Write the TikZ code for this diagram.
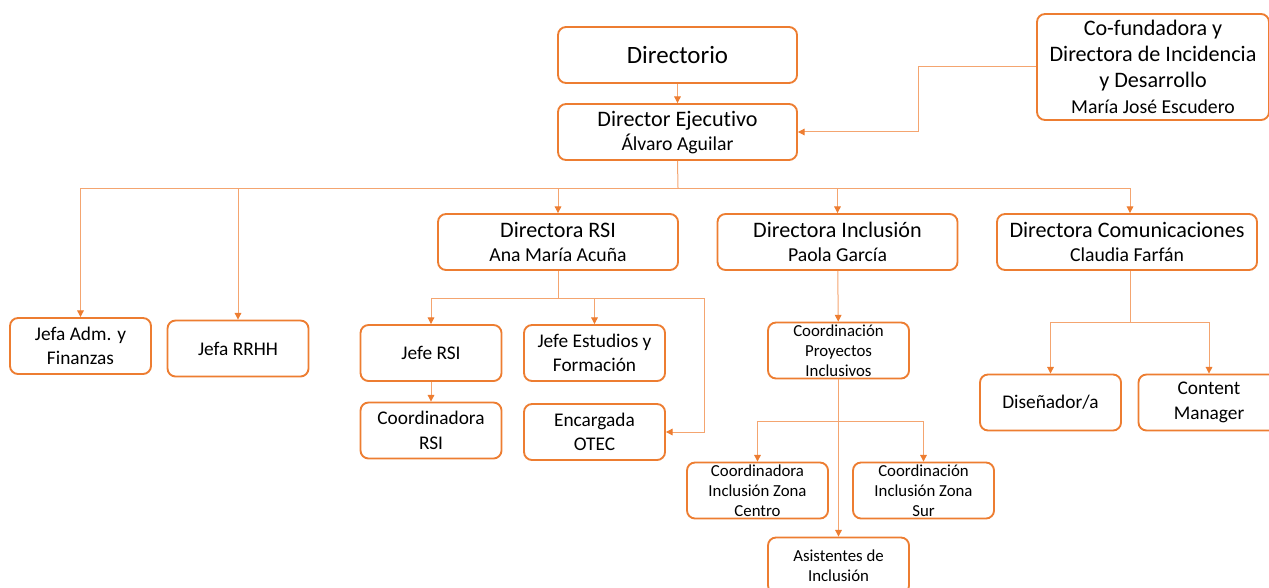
\documentclass[tikz,border=0pt]{standalone}
\usepackage{fontspec}
\setmainfont{Carlito}[Ligatures=NoCommon]
\usetikzlibrary{arrows.meta,positioning}
\definecolor{naranja}{RGB}{237,125,49}
\definecolor{naranjaclaro}{RGB}{244,165,112}
\newcommand{\persona}[1]{{\fontsize{14.8}{18}\selectfont #1}}
\tikzset{
  caja/.style={
    rounded corners=6pt,
    draw=naranja,
    line width=1.4pt,
    fill=white,
    align=center,
    inner sep=1pt,
    minimum width=105.75pt,
    minimum height=42pt,
    font=\fontsize{14.5}{18.5}\selectfont
  },
  cajagrande/.style={
    caja,
    minimum width=179.25pt,
    font=\fontsize{16.6}{18}\selectfont
  },
  cajachica/.style={
    caja,
    font=\fontsize{12.6}{15}\selectfont
  },
  flecha/.style={
    -{Triangle[length=5pt,width=5pt,color=naranja]},
    line width=0.75pt,
    naranjaclaro
  },
  linea/.style={
    line width=0.75pt,
    naranjaclaro
  }
}

\begin{document}
\begin{tikzpicture}[x=0.75pt,y=-0.75pt]
\clip (0,0) rectangle (1269,588);
% nivel superior
\node[cajagrande, font=\fontsize{18.7}{22}\selectfont] (dir) at (677.5,55) {Directorio};
\node[cajagrande, text depth=1pt] (de) at (677.5,132) {Director Ejecutivo\\\persona{Álvaro Aguilar}};
\node[cajagrande, minimum width=174pt, minimum height=79.5pt, inner sep=0pt, font=\fontsize{16.6}{19.5}\selectfont] (cofun) at (1153,67) {Co-fundadora y\\Directora de Incidencia\\y Desarrollo\\\persona{María José Escudero}};
% direcciones
\node[cajagrande, minimum width=180pt] (drsi) at (558,242) {Directora RSI\\\persona{Ana María Acuña}};
\node[cajagrande, minimum width=180pt] (dinc) at (837.5,242) {Directora Inclusión\\\persona{Paola García}};
\node[cajagrande, minimum width=195pt] (dcom) at (1127,242) {Directora Comunicaciones\\\persona{Claudia Farfán}};
% jefaturas
\node[caja] (adm) at (80.5,346) {Jefa Adm. y\\Finanzas};
\node[caja] (rrhh) at (238,348.5) {Jefa RRHH};
\node[caja] (jrsi) at (431,353) {Jefe RSI};
\node[caja] (jest) at (594.5,353) {Jefe Estudios y\\Formación};
\node[caja] (crsi) at (431,430.5) {Coordinadora\\RSI};
\node[caja] (otec) at (594.5,432) {Encargada\\OTEC};
\node[cajachica] (cpi) at (838.5,350.5) {Coordinación\\Proyectos\\Inclusivos};
\node[cajachica] (centro) at (757.5,490.5) {Coordinadora\\Inclusión Zona\\Centro};
\node[cajachica] (sur) at (923.5,490.5) {Coordinación\\Inclusión Zona\\Sur};
\node[cajachica] (asis) at (838.5,565.5) {Asistentes de\\Inclusión};
\node[caja] (dis) at (1050.5,402.5) {Diseñador/a};
\node[caja] (cm) at (1209,402.5) {Content\\Manager};
% puntos de quiebre
\coordinate (b1) at (678,188);
\coordinate (b2) at (558,298);
\coordinate (b2r) at (704,298);
\coordinate (b3) at (838.5,421);
\coordinate (b4) at (1130,322);
\coordinate (cq) at (918,67);
% conectores
\draw[flecha] (dir) -- (de);
\draw[flecha] (cofun.west) -- (cq) |- (de.east);
\draw[linea] (de.south) -- (b1);
\draw[flecha] (b1) -| (adm);
\draw[flecha] (b1) -| (rrhh);
\draw[flecha] (b1) -| (drsi);
\draw[flecha] (b1) -| (dinc);
\draw[flecha] (b1) -| (dcom.north -| b4);
\draw[linea] (drsi.south) -- (b2);
\draw[flecha] (b2) -| (jrsi);
\draw[flecha] (b2) -| (jest);
\draw[flecha] (b2) -- (b2r) |- (otec.east);
\draw[flecha] (jrsi) -- (crsi);
\draw[flecha] (dinc) -- (cpi);
\draw[flecha] (cpi) -- (asis);
\draw[flecha] (b3) -| (centro);
\draw[flecha] (b3) -| (sur);
\draw[linea] (dcom.south -| b4) -- (b4);
\draw[flecha] (b4) -| (dis);
\draw[flecha] (b4) -| (cm);
\end{tikzpicture}
\end{document}
